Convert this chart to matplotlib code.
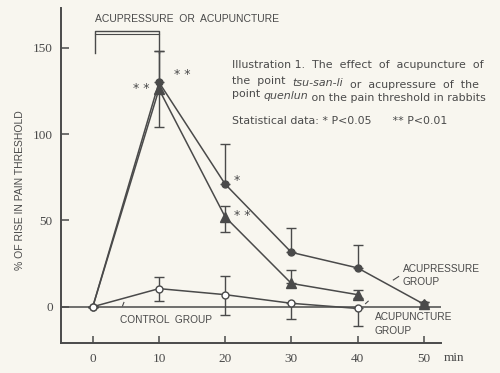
import matplotlib.pyplot as plt

# time points (min)
minutes = [0, 10, 20, 30, 40, 50]

# acupressure group (filled circles)
press_vals = [0, 130, 71, 31.5, 22.5, 1.5]
press_err_lo = [0, 0, 0, 0, 0, 1.5]
press_err_hi = [0, 18, 23, 14, 13, 1.5]

# acupuncture group (filled triangles), line stops at 40
punct_vals = [0, 126, 52, 13.5, 7, 1.5]
punct_err_lo = [0, 22, 8.5, 0, 2, 1.5]
punct_err_hi = [0, 22, 6.5, 8, 2.5, 1.5]

# control group (open circles)
ctrl_min = [0, 10, 20, 30, 40]
ctrl_vals = [0, 10.5, 7, 2, -1]
ctrl_err_lo = [0, 7, 11.5, 9, 10]
ctrl_err_hi = [0, 6.5, 11, 0, 0]

yticks = [0, 50, 100, 150]
xticks = [0, 10, 20, 30, 40, 50]

ink = "#4a4a4a"
paper = "#f8f6ef"

fig = plt.figure(figsize=(5.0, 3.73), dpi=100, facecolor=paper)
ax = fig.add_axes([0.122, 0.0804, 0.76, 0.898])
ax.set_facecolor(paper)

ax.set_xlim(-4.8, 52.6)
ax.set_ylim(-21, 173)

for s in ["top", "right"]:
    ax.spines[s].set_visible(False)
for s in ["left", "bottom"]:
    ax.spines[s].set_color(ink)
    ax.spines[s].set_linewidth(1.4)

ax.axhline(0, color=ink, lw=1.1, zorder=1)

# acupressure
ax.errorbar(minutes, press_vals, yerr=[press_err_lo, press_err_hi], fmt="none",
            ecolor=ink, elinewidth=1.0, capsize=3.5, capthick=1.0, zorder=2)
ax.plot(minutes, press_vals, color=ink, lw=1.1, marker="o", ms=5,
        mfc=ink, mec=ink, zorder=3)

# acupuncture
ax.errorbar(minutes, punct_vals, yerr=[punct_err_lo, punct_err_hi], fmt="none",
            ecolor=ink, elinewidth=1.0, capsize=3.5, capthick=1.0, zorder=2)
ax.plot(minutes[:5], punct_vals[:5], color=ink, lw=1.1, zorder=3)
ax.plot(minutes, punct_vals, ls="none", marker="^", ms=7, markevery=[1, 2, 3, 4, 5],
        mfc=ink, mec=ink, zorder=4)

# control
ax.errorbar(ctrl_min, ctrl_vals, yerr=[ctrl_err_lo, ctrl_err_hi], fmt="none",
            ecolor=ink, elinewidth=1.0, capsize=3.5, capthick=1.0, zorder=2)
ax.plot(ctrl_min, ctrl_vals, color=ink, lw=1.1, marker="o", ms=5,
        mfc="white", mec=ink, mew=1.0, zorder=5)

# axes ticks
ax.set_yticks(yticks)
ax.set_yticklabels([str(v) for v in yticks], family="Liberation Serif",
                   fontsize=9.5, color=ink)
ax.set_xticks(xticks)
ax.set_xticklabels([str(v) for v in xticks], family="Liberation Serif",
                   fontsize=9.5, color=ink)
ax.tick_params(axis="y", direction="in", length=6, width=1.1, color=ink, pad=6)
ax.tick_params(axis="x", direction="in", length=5, width=1.1, color=ink, pad=7)
ax.text(53.0, -29.5, "min", family="Liberation Serif", fontsize=9.5, color=ink,
        va="center", ha="left", clip_on=False)

sans = "Liberation Sans"
ax.set_ylabel("% OF RISE IN PAIN THRESHOLD", family=sans, fontsize=7.5,
              color=ink)
ax.yaxis.set_label_coords(-0.095, 0.457)

# treatment bracket
ax.plot([0.3, 0.3, 10, 10], [147, 160, 160, 147], color=ink, lw=1.0)
ax.plot([0.3, 10], [158.2, 158.2], color=ink, lw=0.8)
ax.text(0.3, 166.5, "ACUPRESSURE  OR  ACUPUNCTURE", family=sans, fontsize=7.5,
        color=ink, va="center", ha="left")

# significance marks
star_kw = dict(family="DejaVu Sans", fontsize=9, color=ink, va="center")
ax.text(12.3, 134.5, "* *", ha="left", **star_kw)
ax.text(8.6, 126.5, "* *", ha="right", **star_kw)
ax.text(21.3, 73, "*", ha="left", **star_kw)
ax.text(21.3, 53, "* *", ha="left", **star_kw)

# group labels
lab_kw = dict(family=sans, fontsize=7.3, color=ink, va="center", ha="left")
ax.text(4.1, -7.5, "CONTROL  GROUP", **lab_kw)
ax.text(46.8, 21.7, "ACUPRESSURE", **lab_kw)
ax.text(46.8, 14.6, "GROUP", **lab_kw)
ax.text(42.6, -6.0, "ACUPUNCTURE", **lab_kw)
ax.text(42.6, -14.2, "GROUP", **lab_kw)
ax.plot([45.4, 46.2], [15.5, 17.5], color=ink, lw=0.8)
ax.plot([41.2, 41.6], [1.8, 3.2], color=ink, lw=0.8)
ax.plot([4.5, 4.7], [0.5, 2.5], color=ink, lw=0.8)

# caption
cap_kw = dict(family="DejaVu Sans", fontsize=7.9, color=ink, va="baseline",
              ha="left")
x0 = 21.0
ax.text(x0, 138.2, "Illustration 1.  The  effect  of  acupuncture  of", **cap_kw)
t = ax.text(x0, 129.2, "the  point  ", **cap_kw)
t = ax.annotate("tsu-san-li", xy=(1, 0), xycoords=t, style="italic", **cap_kw)
t = ax.annotate("  or  acupressure  of  the", xy=(1, 0), xycoords=t, **cap_kw)
t = ax.text(x0, 121.4, "point ", **cap_kw)
t = ax.annotate("quenlun", xy=(1, 0), xycoords=t, style="italic", **cap_kw)
t = ax.annotate(" on the pain threshold in rabbits", xy=(1, 0), xycoords=t,
                **cap_kw)
ax.text(x0, 105.7, "Statistical data: * P<0.05      ** P<0.01", **cap_kw)

fig.savefig("out.png", dpi=100, facecolor=paper)
